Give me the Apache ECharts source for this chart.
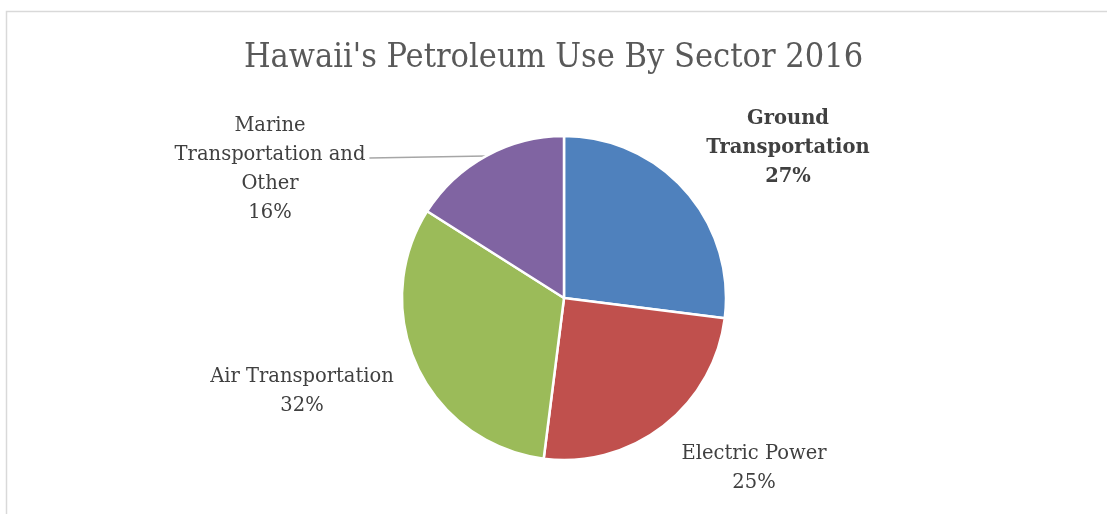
<!DOCTYPE html>
<html>
<head>
<meta charset="utf-8">
<script src="https://cdn.jsdelivr.net/npm/echarts@6/dist/echarts.min.js"></script>
<style>
html,body{margin:0;padding:0;background:#fff;}
#chart{width:1107px;height:514px;}
</style>
</head>
<body>
<div id="chart"></div>
<script>
const titleText = "Hawaii's Petroleum Use By Sector 2016";
const categories = ["Ground Transportation", "Electric Power", "Air Transportation", "Marine Transportation and Other"];
const labelTexts = ["Ground\nTransportation", "Electric Power", "Air Transportation", "Marine\nTransportation and\nOther"];
const values = [27, 25, 32, 16];
const colors = ["#4F81BD", "#C0504D", "#9BBB59", "#8064A2"];
const boldLabel = [true, false, false, false];
const showLeader = [false, false, false, true];
// label anchor positions (chart pixels, centre of label block)
const labelPos = [[788, 148], [754, 468], [302, 391], [270, 169]];

const CENTER = [564, 298];
const RADIUS = 162;
const total = values.reduce((a, b) => a + b, 0);

const chart = echarts.init(document.getElementById('chart'), null, {renderer: 'canvas'});
const FONT = "DejaVu Serif";
chart.setOption({
  backgroundColor: '#ffffff',
  animation: false,
  title: {
    text: titleText,
    left: 'center',
    top: 36,
    textStyle: {fontFamily: "DejaVu Serif Condensed", fontSize: 34, fontWeight: 'normal', color: '#595959'}
  },
  graphic: [{
    type: 'rect', shape: {x: 6.5, y: 11.5, width: 1300, height: 700},
    style: {fill: 'none', stroke: '#d9d9d9', lineWidth: 1.5}, silent: true, z: -10
  }],
  series: [{
    type: 'pie',
    center: CENTER,
    radius: RADIUS,
    startAngle: 90,
    clockwise: true,
    avoidLabelOverlap: false,
    itemStyle: {borderColor: '#ffffff', borderWidth: 2.5},
    label: {
      show: true,
      position: 'outside',
      fontFamily: FONT,
      fontSize: 19.5,
      lineHeight: 29,
      color: '#404040',
      align: 'center'
    },
    labelLine: {show: true, length: 20, length2: 20, lineStyle: {color: '#a6a6a6', width: 1.5}},
    labelLayout: function (p) {
      const i = p.dataIndex;
      const pos = labelPos[i];
      const res = {x: pos[0], y: pos[1], align: 'center', verticalAlign: 'middle'};
      if (showLeader[i]) {
        let before = 0;
        for (let k = 0; k < i; k++) before += values[k];
        const mid = (before + values[i] / 2) / total * 2 * Math.PI;
        const sx = CENTER[0] + RADIUS * Math.sin(mid);
        const sy = CENTER[1] - RADIUS * Math.cos(mid);
        const ex = pos[0] + p.labelRect.width / 2 + 4;
        const ey = pos[1] - 11;
        res.labelLinePoints = [[sx, sy], [ex, ey], [ex, ey]];
      }
      return res;
    },
    data: categories.map((c, i) => ({
      name: c,
      value: values[i],
      itemStyle: {color: colors[i]},
      label: {
        formatter: labelTexts[i] + '\n' + values[i] + '%',
        fontWeight: boldLabel[i] ? 'bold' : 'normal'
      },
      labelLine: {show: showLeader[i]}
    }))
  }]
});
</script>
</body>
</html>
